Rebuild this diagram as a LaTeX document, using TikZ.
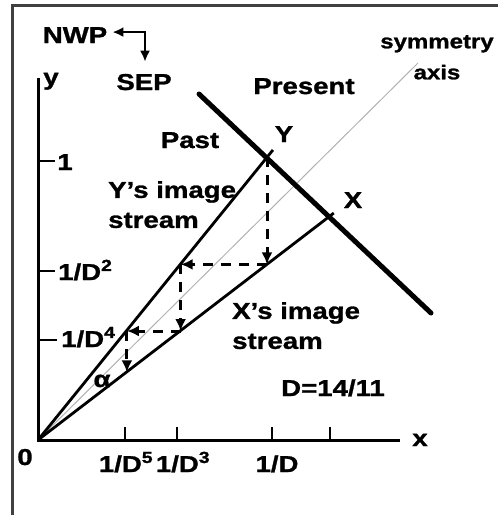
\documentclass[tikz,border=0pt]{standalone}
\usepackage{fontspec}
\setmainfont{Liberation Sans}[FakeStretch=1.2, BoldFeatures={FakeBold=1.2}]
\usetikzlibrary{arrows.meta,calc}

\begin{document}
\begin{tikzpicture}[
        x=1pt, y=-1pt,
        font=\fontsize{23}{30}\selectfont\bfseries,
        lbl/.style={inner sep=0pt, anchor=base},
        axis/.style={line width=3pt},
        stream/.style={line width=2.8pt},
        front/.style={line width=5pt, line cap=round},
        symline/.style={line width=1pt, black!30},
        tickmark/.style={line width=2.4pt},
        ray/.style={line width=3pt, dash pattern=on 10pt off 8pt, -{Latex[length=12pt,width=11pt]}},
        tip/.style={line width=2.6pt, {Latex[length=11pt,width=10pt]}-{Latex[length=11pt,width=10pt]}},
        frame/.style={line width=3pt, black!75}
    ]
        \useasboundingbox (0,0) rectangle (498,515);
        \draw[frame] (12,515) -- (12,5) -- (498,5);

        % points
        \coordinate (O) at (38,440);
        \coordinate (yT) at (38,78);
        \coordinate (xR) at (400,440);
        \coordinate (Y) at (267,157.3);
        \coordinate (X) at (328,217.5);
        \coordinate (a1) at (267,264.4);
        \coordinate (b1) at (180.6,264.4);
        \coordinate (a2) at (180.6,331);
        \coordinate (b2) at (126.9,331);
        \coordinate (a3) at (126.9,372.3);
        \coordinate (p1) at (199,94);
        \coordinate (p2) at (431,313);
        \coordinate (s) at (418,63);

        % axes and ticks
        \draw[axis] (yT) -- (O) -- (xR);
        \foreach \tx in {125,177,272,330}
            \draw[tickmark] (\tx,440) -- (\tx,427);
        \draw[tickmark] (38,161) -- (55,161);
        \draw[tickmark] (38,271) -- (55,271);
        \draw[tickmark] (38,340) -- (57,340);

        % streams
        \draw[symline] (O) -- (s);
        \draw[stream] (O) -- ($(O)!1.026!(Y)$);
        \draw[stream] (O) -- ($(O)!1.02!(X)$);
        \draw[front] (p1) -- (p2);

        \draw[ray] (Y) -- (a1);
        \draw[ray] (a1) -- (b1);
        \draw[ray] (b1) -- (a2);
        \draw[ray] (a2) -- (b2);
        \draw[ray] (b2) -- (a3);

        % labels
        \node[lbl] (nwp) at (75,43) {NWP};
        \node[lbl] (sep) at (144,90) {SEP};
        \draw[tip] ([shift={(5pt,3pt)}]nwp.east) -| ([shift={(1pt,12pt)}]sep.north);
        \node[lbl] (ylab) at (51,85) {y};
        \node[lbl] (xlab) at (420,446) {x};
        \node[lbl] (pres) at (304,94) {Present};
        \node[lbl] (past) at (190,148) {Past};
        \node[lbl] (ylbl) at (284,142) {Y};
        \node[lbl] (xlbl) at (353,208) {X};
        \node[inner sep=0pt, anchor=north, align=center, font=\fontsize{20}{31}\selectfont\bfseries]
            (sym) at (437,35) {symmetry\\axis};
        \node[inner sep=0pt, anchor=north west, align=left] (ys) at (108,181) {Y's image\\stream};
        \node[inner sep=0pt, anchor=north west, align=left] (xs) at (232,302) {X's image\\stream};
        \node[lbl] (dval) at (333,396) {D=14/11};
        \node[lbl] (alpha) at (102,387) {α};

        \node[lbl] (one) at (65,170) {1};
        \node[lbl, anchor=base west] (d2) at (58,280) {1/D\textsuperscript{2}};
        \node[lbl, anchor=base west] (d4) at (61,347) {1/D\textsuperscript{4}};
        \node[lbl] (zero) at (25,465) {0};
        \node[lbl] (d5) at (126,472) {1/D\textsuperscript{5}};
        \node[lbl] (d3) at (183,472) {1/D\textsuperscript{3}};
        \node[lbl] (d1) at (277,472) {1/D};
    \end{tikzpicture}
\end{document}
